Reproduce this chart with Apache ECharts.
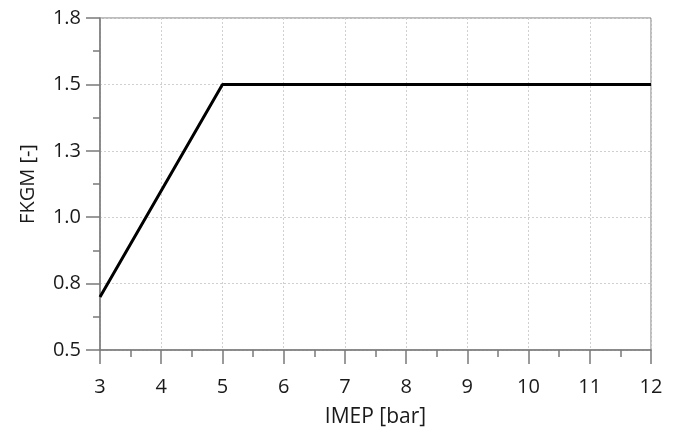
<!DOCTYPE html>
<html>
<head>
<meta charset="utf-8">
<script src="https://cdn.jsdelivr.net/npm/echarts@6/dist/echarts.min.js"></script>
<style>
  html, body { margin: 0; padding: 0; background: #fff; }
  #chart { width: 678px; height: 429px; }
</style>
</head>
<body>
<div id="chart"></div>
<script>
// IMEP [bar] vs FKGM [-]
const imep = [3, 5, 12]
const fkgm = [0.7, 1.5, 1.5]

const xMin = 3, xMax = 12, xStep = 1
const yMin = 0.5, yMax = 1.75, yStep = 0.25

var myChart = echarts.init(document.getElementById('chart'))

const font = '"Open Sans", "Noto Sans", sans-serif'
const axisGrey = '#7a7a7a'
const textColor = '#1a1a1a'

var option = {
  animation: false,
  grid: {
    left: 100,
    right: 27,
    top: 18,
    bottom: 79,
    outerBoundsMode: 'none',
    show: true,
    borderColor: axisGrey,
    borderWidth: 1,
  },
  xAxis: {
    type: 'value',
    min: xMin,
    max: xMax,
    interval: xStep,
    name: 'IMEP [bar]',
    nameLocation: 'middle',
    nameGap: 57,
    nameTextStyle: { fontFamily: font, fontSize: 21, color: textColor },
    axisLine: { show: true, onZero: false, lineStyle: { color: axisGrey, width: 1.5 } },
    axisTick: { show: true, length: 14, lineStyle: { color: axisGrey, width: 1.5 } },
    minorTick: { show: true, splitNumber: 2, length: 7, lineStyle: { color: axisGrey, width: 1.5 } },
    axisLabel: { fontFamily: font, fontSize: 20, color: textColor, margin: 27 },
    splitLine: { show: true, lineStyle: { color: '#d0d0d0', type: [2, 2], width: 1 } },
  },
  yAxis: {
    type: 'value',
    min: yMin,
    max: yMax,
    interval: yStep,
    name: 'FKGM [-]',
    nameLocation: 'middle',
    nameGap: 62,
    nameTextStyle: { fontFamily: font, fontSize: 20, color: textColor },
    axisLine: { show: true, onZero: false, lineStyle: { color: axisGrey, width: 1.5 } },
    axisTick: { show: true, length: 14, lineStyle: { color: axisGrey, width: 1.5 } },
    minorTick: { show: true, splitNumber: 2, length: 7, lineStyle: { color: axisGrey, width: 1.5 } },
    axisLabel: {
      fontFamily: font,
      fontSize: 20,
      color: textColor,
      margin: 19,
      formatter: (v) => v.toFixed(1),
    },
    splitLine: { show: true, lineStyle: { color: '#d0d0d0', type: [2, 2], width: 1 } },
  },
  series: [
    {
      type: 'line',
      data: imep.map((x, i) => [x, fkgm[i]]),
      symbol: 'none',
      lineStyle: { color: '#000', width: 3 },
    },
  ],
}

myChart.setOption(option)
</script>
</body>
</html>
